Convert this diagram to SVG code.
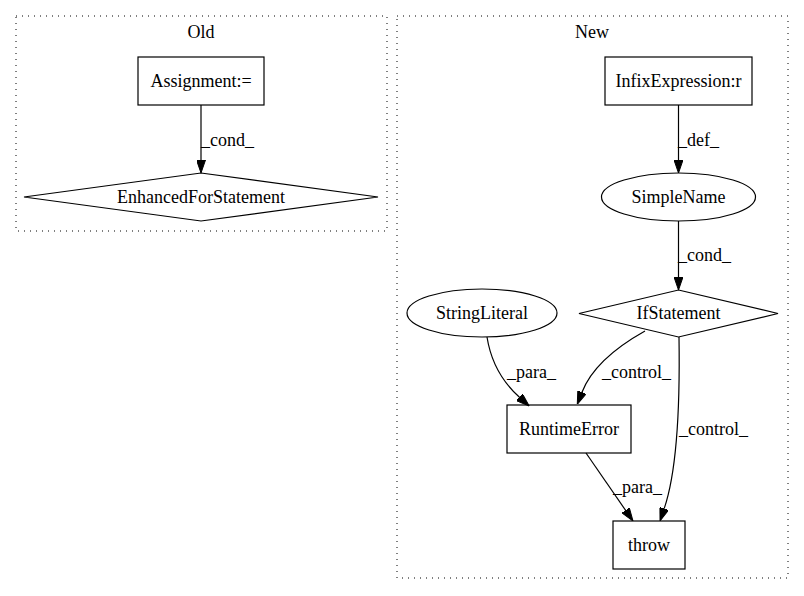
<svg xmlns="http://www.w3.org/2000/svg" width="804" height="596" viewBox="0 0 804 596">
<style>
text{font-family:"Liberation Serif","Times New Roman",serif;font-size:18px;fill:#000}
.n{text-anchor:middle}
.cl{fill:none;stroke:#000;stroke-dasharray:1,5}
.sh{fill:none;stroke:#000;stroke-width:1.2}
.e{fill:none;stroke:#000;stroke-width:1.2;marker-end:url(#ah)}
</style>
<defs>
<marker id="ah" viewBox="0 0 13 9" refX="0" refY="4.5" markerWidth="13" markerHeight="9" orient="auto" markerUnits="userSpaceOnUse">
<path d="M0,0 L13,4.5 L0,9 z" fill="#000" stroke="#000" stroke-width="1"/>
</marker>
</defs>
<rect width="804" height="596" fill="#fff"/>
<g id="cluster_old">
<rect class="cl" x="16" y="16" width="371" height="215"/>
<text class="n" x="201" y="38">Old</text>
</g>
<g id="cluster_new">
<rect class="cl" x="397" y="16" width="391" height="562"/>
<text class="n" x="592" y="38">New</text>
</g>
<g id="assignment">
<rect class="sh" x="138" y="57" width="126" height="48"/>
<text class="n" x="201" y="87">Assignment:=</text>
</g>
<g id="enhancedfor">
<polygon class="sh" points="201,173 378,197 201,221 24,197"/>
<text class="n" x="201" y="203">EnhancedForStatement</text>
</g>
<g id="infix">
<rect class="sh" x="605" y="57" width="147" height="48"/>
<text class="n" x="678.5" y="87">InfixExpression:r</text>
</g>
<g id="simplename">
<ellipse class="sh" cx="678.5" cy="197" rx="77" ry="24"/>
<text class="n" x="678.5" y="203">SimpleName</text>
</g>
<g id="ifstatement">
<polygon class="sh" points="678.5,290 778,313.5 678.5,337 579,313.5"/>
<text class="n" x="678.5" y="319">IfStatement</text>
</g>
<g id="stringliteral">
<ellipse class="sh" cx="482" cy="313" rx="75" ry="24"/>
<text class="n" x="482" y="319">StringLiteral</text>
</g>
<g id="runtimeerror">
<rect class="sh" x="507" y="405" width="124" height="48"/>
<text class="n" x="569" y="435">RuntimeError</text>
</g>
<g id="throw">
<rect class="sh" x="613" y="521" width="72" height="48"/>
<text class="n" x="649" y="551">throw</text>
</g>
<g id="connectors">
<path class="e" d="M201,105 L201,160"/>
<text x="201" y="146">_cond_</text>
<path class="e" d="M678.5,105 L678.5,160"/>
<text x="678" y="146">_def_</text>
<path class="e" d="M678.5,221 L678.5,277"/>
<text x="678" y="261">_cond_</text>
<path class="e" d="M487,337 C490,356 498,378 519.5,397.3"/>
<text x="507" y="378">_para_</text>
<path class="e" d="M645,331 C620,345 593,364 582,392.2"/>
<text x="602" y="378">_control_</text>
<path class="e" d="M679,337 C680,400 678,468 664.2,508.6"/>
<text x="679" y="435">_control_</text>
<path class="e" d="M586,453 L625.6,510.3"/>
<text x="613" y="493">_para_</text>
</g>
</svg>
